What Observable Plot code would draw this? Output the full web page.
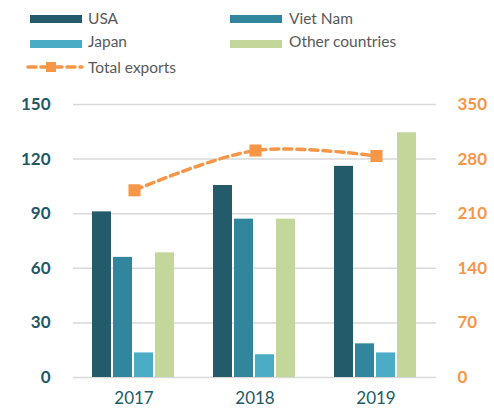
<!DOCTYPE html>
<html>
<head>
<meta charset="utf-8">
<script src="https://cdn.jsdelivr.net/npm/d3@7"></script>
<script src="https://cdn.jsdelivr.net/npm/@observablehq/plot@0.6"></script>
<style>
  body { margin: 0; background: #fff; }
  #wrap { position: relative; width: 494px; height: 409px; font-family: Lato, "Open Sans", sans-serif; overflow: hidden; }
  .sw { position: absolute; height: 8px; width: 52px; }
  .lb { position: absolute; font-size: 15.5px; line-height: 20px; color: #595959; white-space: nowrap; }
  .layer { position: absolute; left: 0; top: 85px; }
  .layer svg { overflow: visible; }
  #bars g[aria-label^="y-axis"] text { font-weight: 700; fill: #215968; }
  #bars g[aria-label^="fx-axis"] text { fill: #215968; }
  #line g[aria-label^="y-axis"] text { font-weight: 700; fill: #F79646; }
</style>
</head>
<body>
<div id="wrap">
  <div class="sw" style="left:30px;top:15px;background:#235B6B"></div>
  <div class="lb" style="left:88px;top:7.6px">USA</div>
  <div class="sw" style="left:230px;top:15px;background:#31859C"></div>
  <div class="lb" style="left:289px;top:7.6px">Viet Nam</div>
  <div class="sw" style="left:30px;top:40px;background:#4BACC6"></div>
  <div class="lb" style="left:88px;top:31px">Japan</div>
  <div class="sw" style="left:230px;top:40px;background:#C4D79B"></div>
  <div class="lb" style="left:289px;top:31px">Other countries</div>
  <svg style="position:absolute;left:0;top:55px" width="90" height="24">
    <line x1="28" x2="82" y1="12" y2="12" stroke="#F79646" stroke-width="3.5" stroke-dasharray="8,5" stroke-linecap="round"></line>
    <rect x="46" y="7" width="10" height="10" fill="#F79646"></rect>
  </svg>
  <div class="lb" style="left:88px;top:56.6px">Total exports</div>
  <div id="bars" class="layer"></div>
  <div id="line" class="layer"></div>
</div>
<script>
const years = ["2017", "2018", "2019"];
const countries = ["USA", "Viet Nam", "Japan", "Other countries"];
const usa = [91, 105.5, 116];
const vietNam = [66, 87, 18.5];
const japan = [13.5, 12.5, 13.5];
const otherCountries = [68.5, 87, 134.5];
const totalExports = [240, 291, 284];
const leftTicks = [0, 30, 60, 90, 120, 150];
const rightTicks = [0, 70, 140, 210, 280, 350];
const colors = ["#235B6B", "#31859C", "#4BACC6", "#C4D79B"];

const series = [usa, vietNam, japan, otherCountries];
const barData = [];
years.forEach((yr, i) => {
  countries.forEach((c, j) => barData.push({ year: yr, country: c, value: series[j][i] }));
});
const totalData = years.map((yr, i) => ({ year: yr, total: totalExports[i] }));

const W = 494, H = 324, ML = 72, MR = 57, MT = 19, MB = 32;
const font = { fontFamily: "Lato, 'Open Sans', sans-serif", fontSize: "17px", background: "transparent", overflow: "visible" };

const bars = Plot.plot({
  width: W, height: H,
  marginLeft: ML, marginRight: MR, marginTop: MT, marginBottom: MB,
  style: font,
  fx: { domain: years, padding: 0, label: null, axis: "bottom", tickSize: 0, tickPadding: 14 },
  x: { domain: countries, axis: null, paddingInner: 0.09, paddingOuter: 0.8 },
  y: { domain: [0, 150], ticks: leftTicks, axis: "left", label: null, tickSize: 0, tickPadding: 23 },
  color: { domain: countries, range: colors },
  marks: [
    Plot.ruleY(leftTicks, { stroke: "#D9D9D9", strokeWidth: 1.5 }),
    Plot.barY(barData, { fx: "year", x: "country", y: "value", fill: "country" })
  ]
});
document.getElementById("bars").appendChild(bars);

const line = Plot.plot({
  width: W, height: H,
  marginLeft: ML, marginRight: MR, marginTop: MT, marginBottom: MB,
  style: font,
  x: { type: "point", domain: years, padding: 0.5, axis: null },
  y: { domain: [0, 350], ticks: rightTicks, axis: "right", label: null, tickSize: 0, tickPadding: 20 },
  marks: [
    Plot.line(totalData, { x: "year", y: "total", curve: "catmull-rom", stroke: "#F79646", strokeWidth: 3.5, strokeDasharray: "8,5", strokeLinecap: "round" }),
    Plot.dot(totalData, { x: "year", y: "total", symbol: "square", r: 6.8, fill: "#F79646", stroke: "none" })
  ]
});
document.getElementById("line").appendChild(line);
</script>
</body>
</html>
